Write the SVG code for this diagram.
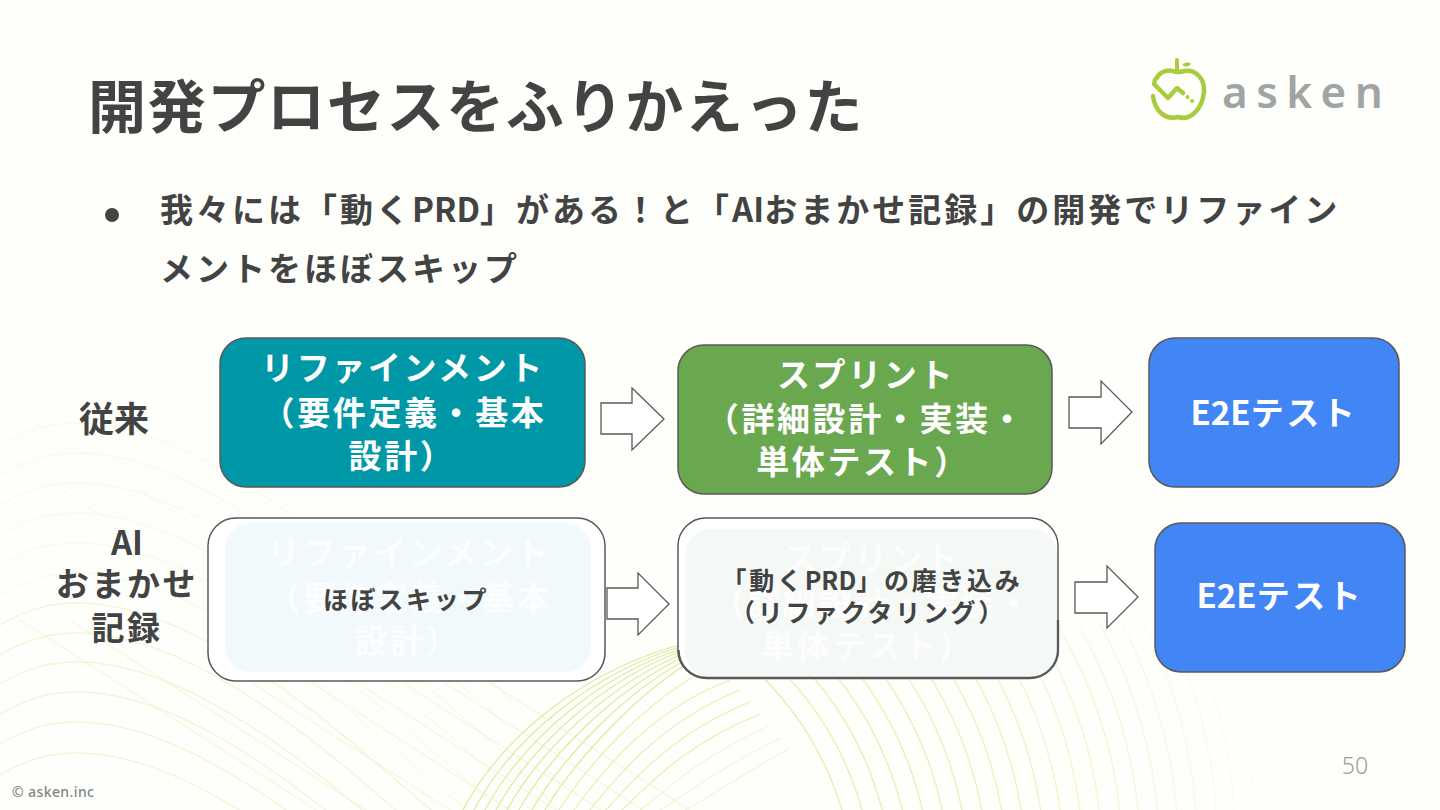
<svg xmlns="http://www.w3.org/2000/svg" width="1440" height="810" viewBox="0 0 1440 810">
<style>
text{font-family:"Noto Sans CJK JP","Noto Sans",sans-serif}
.w{fill:#fff;font-weight:700;font-size:33px;letter-spacing:2.6px}
.d{fill:#434343;font-weight:700}
.n{letter-spacing:0}
.g{fill:#fff;font-weight:700;font-size:33px;letter-spacing:2.6px;opacity:.72}
.s{font-size:25px;letter-spacing:2.7px}
.box{stroke:#595959;stroke-width:1.5}
.ar{fill:#fff;stroke:#595959;stroke-width:1.3}
.a{fill:none;stroke:#e4eeae;stroke-width:1.3}
.l{fill:none;stroke:#eef3cf;stroke-width:1.4}
.f{fill:none;stroke:#dde9a0;stroke-width:1.2}
</style>
<defs>
<path id="la" d="M0 22C30 5 50 0 78 0C160 0 260 60 370 155S500 260 560 330"/>
<linearGradient id="fade" gradientUnits="userSpaceOnUse" x1="0" y1="600" x2="0" y2="650"><stop offset="0" stop-color="#000"/><stop offset="1" stop-color="#fff"/></linearGradient>
<mask id="topfade" maskUnits="userSpaceOnUse" x="0" y="0" width="1440" height="810"><rect x="700" y="600" width="740" height="210" fill="url(#fade)"/></mask>
</defs>
<rect width="1440" height="810" fill="#fefffa"/>
<g id="background">
<g opacity=".35">
<use href="#la" class="l" y="423"/><use href="#la" class="l" y="453"/><use href="#la" class="l" y="483"/><use href="#la" class="l" y="513"/><use href="#la" class="l" y="543"/><use href="#la" class="l" y="573"/>
</g>
<g opacity=".8">
<use href="#la" class="l" y="603"/><use href="#la" class="l" y="633"/><use href="#la" class="l" y="662"/><use href="#la" class="l" y="692"/><use href="#la" class="l" y="722"/><use href="#la" class="l" y="753"/>
</g>
<path class="l" opacity=".6" d="M20 620L316 810M70 620L366 810M252 683L450 810M312 683L510 810M358 683L556 810M403 683L601 810M445 683L643 810M490 683L690 810"/>
<path class="l" opacity=".3" d="M0 450L205 582M0 400L205 532"/>
<g mask="url(#topfade)">
<circle class="a" cx="540" cy="900" r="315" stroke-opacity="1"/>
<circle class="a" cx="550" cy="897" r="324" stroke-opacity=".98"/>
<circle class="a" cx="559" cy="894" r="334" stroke-opacity=".96"/>
<circle class="a" cx="569" cy="891" r="343" stroke-opacity=".94"/>
<circle class="a" cx="578" cy="888" r="353" stroke-opacity=".92"/>
<circle class="a" cx="588" cy="885" r="362" stroke-opacity=".9"/>
<circle class="a" cx="598" cy="882" r="371" stroke-opacity=".86"/>
<circle class="a" cx="607" cy="879" r="381" stroke-opacity=".82"/>
<circle class="a" cx="617" cy="876" r="390" stroke-opacity=".78"/>
<circle class="a" cx="626" cy="873" r="400" stroke-opacity=".74"/>
<circle class="a" cx="636" cy="870" r="409" stroke-opacity=".7"/>
<circle class="a" cx="646" cy="867" r="418" stroke-opacity=".65"/>
<circle class="a" cx="655" cy="863" r="428" stroke-opacity=".6"/>
<circle class="a" cx="665" cy="860" r="437" stroke-opacity=".55"/>
<circle class="a" cx="675" cy="857" r="447" stroke-opacity=".5"/>
<circle class="a" cx="684" cy="854" r="456" stroke-opacity=".45"/>
<circle class="a" cx="694" cy="851" r="465" stroke-opacity=".4"/>
<circle class="a" cx="703" cy="848" r="475" stroke-opacity=".34"/>
<circle class="a" cx="713" cy="845" r="484" stroke-opacity=".28"/>
<circle class="a" cx="723" cy="842" r="494" stroke-opacity=".22"/>
<circle class="a" cx="732" cy="839" r="503" stroke-opacity=".16"/>
<circle class="a" cx="742" cy="836" r="513" stroke-opacity=".12"/>
<circle class="a" cx="751" cy="834" r="522" stroke-opacity=".08"/>
</g>
<path class="f" d="M463 810C500 740 580 670 690 642M474 810C510 742 588 672 690 644M485 810C520 745 595 675 690 646M496 810C530 748 602 678 690 648M507 810C540 750 610 682 690 651M519 810C550 754 618 686 690 654M532 810C562 758 626 690 690 658M545 810C574 762 634 696 690 662"/>
<path class="f" opacity=".75" d="M559 810C586 768 642 702 710 668M574 810C600 774 650 710 730 680M590 810C614 780 660 722 740 690M606 810C628 786 670 734 750 702M622 810C642 792 680 746 760 714"/>
<path class="f" opacity=".4" d="M640 810C658 798 692 760 770 726M660 810C675 802 705 776 780 738M685 810C698 804 720 788 790 748"/>
</g>
<text id="title" class="d" x="88" y="128" font-size="58" letter-spacing="1.5" textLength="776">開発プロセスをふりかえった</text>
<g id="logo">
<path d="M1153 96C1155 112 1166 120 1178 117C1190 121 1202 110 1204 92C1205 78 1195 69 1184 71C1180 72 1177 73 1173 71C1165 69 1159 73 1155 80L1154 84L1168 98L1177 88L1183 93" fill="none" stroke="#a9cc3f" stroke-width="4.5" stroke-linecap="round" stroke-linejoin="round"/>
<path d="M1177 60V72" stroke="#a9cc3f" stroke-width="4" stroke-linecap="round"/>
<path d="M1182 65C1185 62 1189 62 1191 64C1189 67 1185 67 1182 65Z" fill="#a9cc3f"/>
<circle cx="1187.500" cy="97" r="2" fill="#a9cc3f"/><circle cx="1192" cy="101" r="2" fill="#a9cc3f"/>
<text x="1222" y="108" font-size="44" font-weight="600" letter-spacing="8.4" fill="#a0a4a2" style="font-family:'Noto Sans',sans-serif">asken</text>
</g>
<g id="bullet">
<circle cx="112" cy="215" r="7" fill="#434343"/>
<text class="d" x="160" y="222" font-size="33" letter-spacing="3">我々には「動く<tspan class="n">PRD</tspan>」がある！と「<tspan class="n">AI</tspan>おまかせ記録」の開発でリファイン</text>
<text class="d" x="160" y="281" font-size="33" letter-spacing="3">メントをほぼスキップ</text>
</g>
<text id="label-old" class="d" x="114" y="432" font-size="35" text-anchor="middle">従来</text>
<g id="label-ai" class="d" font-size="33" text-anchor="middle" letter-spacing="2.6">
<text x="127" y="555" letter-spacing="0">AI</text><text x="127" y="596">おまかせ</text><text x="127" y="640">記録</text>
</g>
<g id="connectors">
<path class="ar" d="M601 403H632V388L664 419L632 450V434H601Z"/>
<path class="ar" d="M1069 397H1101V381L1132 412L1101 444V428H1069Z"/>
<path class="ar" d="M607 588H638V573L669 604L638 635V619H607Z"/>
<path class="ar" d="M1075 582H1107V566L1138 597L1107 628V613H1075Z"/>
</g>
<g id="node-refine">
<rect class="box" x="220" y="338" width="365" height="149" rx="26" fill="#0097a7"/>
<text class="w" x="403" y="380" text-anchor="middle">リファインメント</text>
<text class="w" x="404" y="425" text-anchor="middle">（要件定義・基本</text>
<text class="w" x="402" y="468" text-anchor="middle">設計）</text>
</g>
<g id="node-sprint">
<rect class="box" x="678" y="345" width="374" height="149" rx="26" fill="#6aa84f"/>
<text class="w" x="866" y="387" text-anchor="middle">スプリント</text>
<text class="w" x="866" y="431" text-anchor="middle">（詳細設計・実装・</text>
<text class="w" x="863" y="474" text-anchor="middle">単体テスト）</text>
</g>
<g id="node-e2e">
<rect class="box" x="1149" y="338" width="250" height="149" rx="26" fill="#4285f4"/>
<text class="w" x="1274" y="425" text-anchor="middle"><tspan class="n">E2E</tspan>テスト</text>
</g>
<g id="node-skip">
<rect class="box" x="208" y="518" width="397" height="163" rx="28" fill="#fff"/>
<rect x="225" y="523" width="366" height="149" rx="26" fill="#f1f9fc"/>
<text class="g" x="409" y="565" text-anchor="middle">リファインメント</text>
<text class="g" x="410" y="610" text-anchor="middle">（要件定義・基本</text>
<text class="g" x="408" y="653" text-anchor="middle">設計）</text>
<text class="d s" x="406" y="609" text-anchor="middle">ほぼスキップ</text>
</g>
<g id="node-prd">
<rect x="678" y="518" width="380" height="160" rx="28" fill="#fff" stroke="#595959" stroke-width="1.5"/>
<rect x="685" y="529" width="372" height="148" rx="26" fill="#f5f9f6"/>
<path d="M678.500 650a28 28 0 0 0 28 28H1030a28 28 0 0 0 28 -28V620" fill="none" stroke="#595959" stroke-width="2.300"/>
<text class="g" x="872" y="571" text-anchor="middle">スプリント</text>
<text class="g" x="872" y="615" text-anchor="middle">（詳細設計・実装・</text>
<text class="g" x="868" y="658" text-anchor="middle">単体テスト）</text>
<text class="d s" x="872" y="590" text-anchor="middle">「動く<tspan class="n">PRD</tspan>」の磨き込み</text>
<text class="d s" x="868" y="622" text-anchor="middle">（リファクタリング）</text>
</g>
<g id="node-e2e-ai">
<rect class="box" x="1155" y="523" width="250" height="149" rx="26" fill="#4285f4"/>
<text class="w" x="1280" y="608" text-anchor="middle"><tspan class="n">E2E</tspan>テスト</text>
</g>
<text x="1355" y="774" font-size="23" fill="#9a9a9a" text-anchor="middle" style="font-family:'Noto Sans',sans-serif;font-weight:300">50</text>
<text x="12" y="797" font-size="14" font-weight="500" letter-spacing=".4" fill="#7f8684" style="font-family:'Noto Sans',sans-serif">© asken.inc</text>
</svg>
